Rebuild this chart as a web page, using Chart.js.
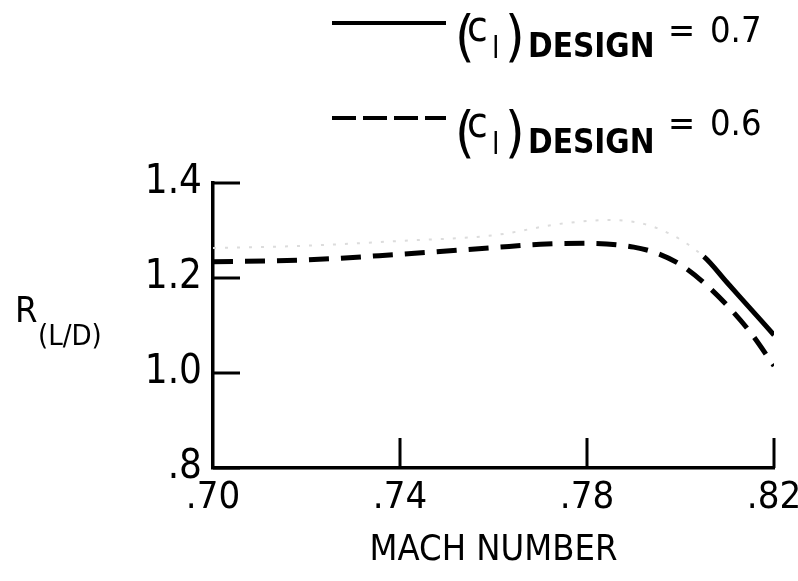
<!DOCTYPE html>
<html>
<head>
<meta charset="utf-8">
<script src="https://cdn.jsdelivr.net/npm/chart.js@4.4.1/dist/chart.umd.min.js"></script>
<style>
    html, body { margin: 0; padding: 0; background: #fff; }
</style>
</head>
<body>
<canvas id="graficoRLD" width="798" height="581"></canvas>
<script>
    // valores
    const machTicks = [0.70, 0.74, 0.78, 0.82];
    const rTicks = [0.8, 1.0, 1.2, 1.4];

    const mach06 = [0.70, 0.72, 0.74, 0.76, 0.77, 0.78, 0.79, 0.795, 0.80, 0.805, 0.81, 0.815, 0.82];
    const r06 = [1.234, 1.238, 1.25, 1.264, 1.271, 1.273, 1.265, 1.252, 1.228, 1.19, 1.142, 1.085, 1.015];

    const mach07 = [0.70, 0.72, 0.74, 0.76, 0.775, 0.785, 0.795, 0.805, 0.81, 0.815, 0.82];
    const r07 = [1.263, 1.268, 1.278, 1.29, 1.315, 1.322, 1.305, 1.245, 1.19, 1.135, 1.08];

    const legendas = ['0.7', '0.6'];
    const fonte = "'Liberation Sans Narrow', 'DejaVu Sans Condensed', 'Liberation Sans', sans-serif";

    // parte da curva 0.7 que quase sumiu no original
    const apagadoAte = 0.805;

    const marcas = {
        id: 'marcas',
        afterDraw(chart) {
            const ctx = chart.ctx;
            const x = chart.scales.x;
            const y = chart.scales.y;
            ctx.save();
            ctx.strokeStyle = '#000';
            ctx.lineWidth = 3;
            rTicks.forEach(v => {
                const py = y.getPixelForValue(v);
                ctx.beginPath();
                ctx.moveTo(x.left, py);
                ctx.lineTo(x.left + 27, py);
                ctx.stroke();
            });
            machTicks.slice(1).forEach(v => {
                const px = x.getPixelForValue(v);
                ctx.beginPath();
                ctx.moveTo(px, y.bottom);
                ctx.lineTo(px, y.bottom - 30);
                ctx.stroke();
            });

            // titulo do eixo y: R com (L/D) subscrito
            ctx.fillStyle = '#000';
            ctx.textBaseline = 'alphabetic';
            ctx.textAlign = 'left';
            ctx.font = '36px ' + fonte;
            ctx.fillText('R', 15, 322);
            ctx.font = '29px ' + fonte;
            ctx.fillText('(L/D)', 38, 345);

            // legenda
            const linhas = [
                { base: 57, igual: 42, dash: [] },
                { base: 153, igual: 135, dash: [24, 7] }
            ];
            linhas.forEach((l, i) => {
                ctx.beginPath();
                ctx.setLineDash(l.dash);
                ctx.lineWidth = 4;
                ctx.moveTo(332, l.base - 34 + (i ? -1 : 0));
                ctx.lineTo(446, l.base - 34 + (i ? -1 : 0));
                ctx.stroke();
                ctx.setLineDash([]);

                ctx.font = '56px ' + fonte;
                ctx.fillText('(', 455, l.base - 2);
                ctx.fillText(')', 505, l.base - 2);
                ctx.font = '42px ' + fonte;
                ctx.fillText('c', 467, l.base - 16);
                ctx.font = '30px ' + fonte;
                ctx.fillText('l', 492, l.base + 1);
                ctx.font = 'bold 33px ' + fonte;
                ctx.fillText('DESIGN', 528, l.base);
                ctx.font = '36px ' + fonte;
                ctx.fillText('=', 668, l.igual);
                ctx.fillText(legendas[i], 710, l.igual);
            });
            ctx.restore();
        }
    };

    const grafico = document.getElementById('graficoRLD');

    new Chart(grafico, {
        type: 'line',
        data: {
            datasets: [{
                label: '(cl) DESIGN = 0.7',
                data: mach07.map((m, i) => ({ x: m, y: r07[i] })),
                borderColor: '#000',
                borderWidth: 5,
                pointRadius: 0,
                cubicInterpolationMode: 'monotone',
                fill: false,
                segment: {
                    borderColor: c => c.p1.parsed.x <= apagadoAte ? '#dcdcdc' : '#000',
                    borderDash: c => c.p1.parsed.x <= apagadoAte ? [3, 9] : [],
                    borderWidth: c => c.p1.parsed.x <= apagadoAte ? 2 : 5
                }
            },
            {
                label: '(cl) DESIGN = 0.6',
                data: mach06.map((m, i) => ({ x: m, y: r06[i] })),
                borderColor: '#000',
                borderWidth: 5,
                borderDash: [20, 12],
                pointRadius: 0,
                cubicInterpolationMode: 'monotone',
                fill: false
            }]
        },
        options: {
            responsive: false,
            animation: false,
            layout: {
                padding: { left: 0, top: 183, right: 24, bottom: 0 }
            },
            plugins: {
                legend: { display: false },
                tooltip: { enabled: false }
            },
            scales: {
                x: {
                    type: 'linear',
                    min: 0.70,
                    max: 0.82,
                    afterFit: s => { s.height = 113; s.paddingLeft = 0; s.paddingRight = 0; },
                    afterBuildTicks: s => { s.ticks = machTicks.map(v => ({ value: v })); },
                    grid: { display: false, drawTicks: false },
                    border: { display: true, color: '#000', width: 3.5 },
                    ticks: {
                        padding: 7,
                        color: '#000',
                        font: { family: fonte, size: 38 },
                        callback: v => '.' + Math.round(v * 100)
                    },
                    title: {
                        display: true,
                        text: 'MACH NUMBER',
                        color: '#000',
                        font: { family: fonte, size: 36 },
                        padding: { top: 0, bottom: 9 }
                    }
                },
                y: {
                    type: 'linear',
                    min: 0.8,
                    max: 1.4,
                    afterFit: s => { s.width = 213; },
                    afterBuildTicks: s => { s.ticks = rTicks.map(v => ({ value: v })); },
                    grid: { display: false, drawTicks: false },
                    border: { display: true, color: '#000', width: 3.5 },
                    ticks: {
                        padding: 11,
                        color: '#000',
                        font: { family: fonte, size: 40 },
                        callback: v => v < 1 ? '.' + Math.round(v * 10) : v.toFixed(1)
                    }
                }
            }
        },
        plugins: [marcas]
    });
</script>
</body>
</html>
